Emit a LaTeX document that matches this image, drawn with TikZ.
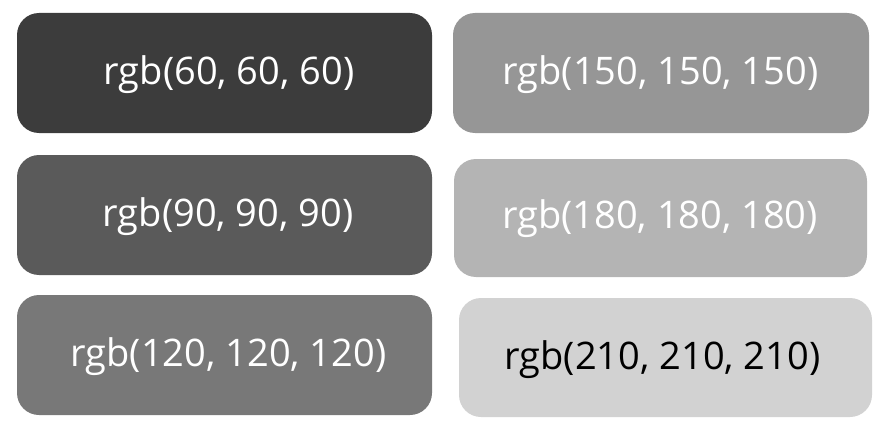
\documentclass[tikz,border=0pt]{standalone}
\usepackage{fontspec}
\setmainfont{Open Sans}
\definecolor{g60}{RGB}{60,60,60}
\definecolor{g90}{RGB}{90,90,90}
\definecolor{g120}{RGB}{120,120,120}
\definecolor{g150}{RGB}{150,150,150}
\definecolor{g180}{RGB}{180,180,180}
\definecolor{g210}{RGB}{210,210,210}
\tikzset{
  swatch/.style={rounded corners=22pt, draw=none},
  lbl/.style={font=\fontsize{38}{44}\selectfont, inner sep=0pt, anchor=center},
}
\begin{document}
\begin{tikzpicture}[x=1pt,y=-1pt]
\useasboundingbox (0,0) rectangle (887,436);
\fill[swatch, g60]  (17,13)  rectangle (432,133);
\fill[swatch, g150] (453,13) rectangle (869,133);
\fill[swatch, g90]  (17,155) rectangle (432,275);
\fill[swatch, g180] (454,159) rectangle (867,277);
\fill[swatch, g120] (17,295) rectangle (432,415);
\fill[swatch, g210] (459,298) rectangle (872,417);
\node[lbl, text=white] (t1) at (229,75) {rgb(60, 60, 60)};
\node[lbl, text=white] (t2) at (660.5,75) {rgb(150, 150, 150)};
\node[lbl, text=white] (t3) at (228,217) {rgb(90, 90, 90)};
\node[lbl, text=white] (t4) at (660,219) {rgb(180, 180, 180)};
\node[lbl, text=white] (t5) at (228.5,357) {rgb(120, 120, 120)};
\node[lbl, text=black] (t6) at (662.5,360) {rgb(210, 210, 210)};
\end{tikzpicture}
\end{document}
